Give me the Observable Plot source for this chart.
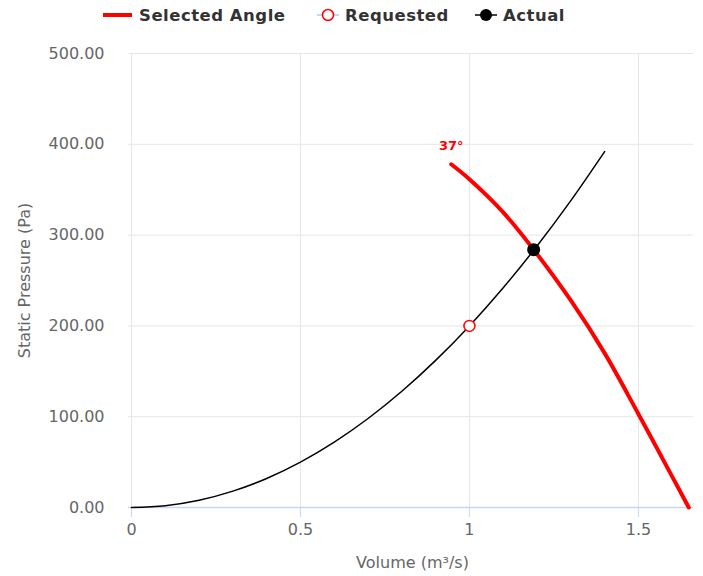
<!DOCTYPE html>
<html>
<head>
<meta charset="utf-8">
<script src="https://cdn.jsdelivr.net/npm/d3@7"></script>
<script src="https://cdn.jsdelivr.net/npm/@observablehq/plot@0.6"></script>
<style>
  body { margin: 0; background: #fff; font-family: "DejaVu Sans", sans-serif; }
  #wrap { width: 703px; height: 576px; position: relative; }
  #legend { position: relative; height: 30px; width: 703px; }
  .item { position: absolute; top: 0; height: 30px; display: flex; align-items: center; }
  .lab { font: bold 16.5px "DejaVu Sans", sans-serif; color: #333; letter-spacing: 0.5px; }
  svg.sw { display: block; }
</style>
</head>
<body>
<div id="wrap">
  <div id="legend">
    <div class="item" style="left:103px">
      <svg class="sw" width="30" height="30"><line x1="0" x2="29" y1="15" y2="15" stroke="#ff0000" stroke-width="4"/></svg>
      <span class="lab" style="margin-left:6px">Selected Angle</span>
    </div>
    <div class="item" style="left:317px">
      <svg class="sw" width="22" height="30"><line x1="0" x2="22" y1="15" y2="15" stroke="#7cb5ec" stroke-width="1"/><circle cx="11" cy="15" r="5.5" fill="#fff" stroke="#ff0000" stroke-width="1.5"/></svg>
      <span class="lab" style="margin-left:6px">Requested</span>
    </div>
    <div class="item" style="left:475px">
      <svg class="sw" width="22" height="30"><line x1="0" x2="22" y1="15" y2="15" stroke="#000" stroke-width="1.5"/><circle cx="11" cy="15" r="6" fill="#000"/></svg>
      <span class="lab" style="margin-left:6px">Actual</span>
    </div>
  </div>
  <div id="chart"></div>
</div>
<script>
// Selected fan angle curve (red)
const angleX = [0.946, 1.0, 1.1, 1.19, 1.3, 1.4, 1.5, 1.6, 1.649];
const angleY = [378, 361.5, 325, 284, 228, 170, 103, 34, 0];
const angleLabel = "37°";

// System curve (black)
const sysX = [0, 0.1, 0.2, 0.3, 0.4, 0.5, 0.6, 0.7, 0.8, 0.9, 1.0, 1.1, 1.2, 1.3, 1.4];
const sysY = [0, 2, 8, 18, 32, 50, 72, 98, 128, 162, 200, 242, 288, 338, 392];

// Points
const requestedX = [1.0];
const requestedY = [200];
const actualX = [1.19];
const actualY = [284];

const xTicks = [0, 0.5, 1, 1.5];
const yTicks = [0, 100, 200, 300, 400, 500];
const xLabel = "Volume (m³/s)";
const yLabel = "Static Pressure (Pa)";

const angle = angleX.map((x, i) => ({x, y: angleY[i]}));
const sys = sysX.map((x, i) => ({x, y: sysY[i]}));
const requested = requestedX.map((x, i) => ({x, y: requestedY[i]}));
const actual = actualX.map((x, i) => ({x, y: actualY[i]}));

const chart = Plot.plot({
  width: 703,
  height: 546,
  marginTop: 23,
  marginBottom: 69,
  marginLeft: 131,
  marginRight: 10,
  style: {fontFamily: "DejaVu Sans, sans-serif", fontSize: "16px", color: "#666", background: "#fff", overflow: "visible"},
  x: {domain: [0, 1.663]},
  y: {domain: [0, 500]},
  marks: [
    Plot.ruleY(yTicks, {y: d => d, x1: -0.0089, x2: 1.663, stroke: "#e6e6e6", strokeWidth: 1, strokeOpacity: 1}),
    Plot.ruleX(xTicks, {x: d => d, stroke: "#e6e6e6", strokeWidth: 1, strokeOpacity: 1}),
    Plot.ruleY([0], {x1: -0.0089, x2: 1.663, stroke: "#ccd6eb", strokeWidth: 1.5}),
    Plot.axisX({ticks: xTicks, tickSize: 10, tickPadding: 6, stroke: "#ccd6eb", fill: "#666", tickFormat: d => String(d), label: null}),
    Plot.axisY({ticks: yTicks, tickSize: 0, tickPadding: 27, fill: "#666", tickFormat: d3.format(".2f"), label: null}),
    Plot.line(sys, {x: "x", y: "y", stroke: "#000", strokeWidth: 1.5, curve: "catmull-rom"}),
    Plot.line(angle, {x: "x", y: "y", stroke: "#ff0000", strokeWidth: 4, curve: "catmull-rom"}),
    Plot.text([angle[0]], {x: "x", y: "y", text: () => angleLabel, dy: -18, fill: "#ff0000", fontWeight: "bold", fontSize: 13, textAnchor: "middle", style: {letterSpacing: "0.6px"}}),
    Plot.dot(requested, {x: "x", y: "y", r: 5.5, fill: "#fff", stroke: "#ff0000", strokeWidth: 1.5}),
    Plot.dot(actual, {x: "x", y: "y", r: 6.5, fill: "#000", stroke: "none"}),
    Plot.text([xLabel], {frameAnchor: "bottom", text: d => d, dy: 55, lineAnchor: "middle", textAnchor: "middle", fill: "#666", fontSize: 16}),
    Plot.text([yLabel], {frameAnchor: "left", text: d => d, dx: -107, rotate: -90, lineAnchor: "middle", textAnchor: "middle", fill: "#666", fontSize: 16})
  ]
});
document.getElementById("chart").appendChild(chart);
</script>
</body>
</html>
